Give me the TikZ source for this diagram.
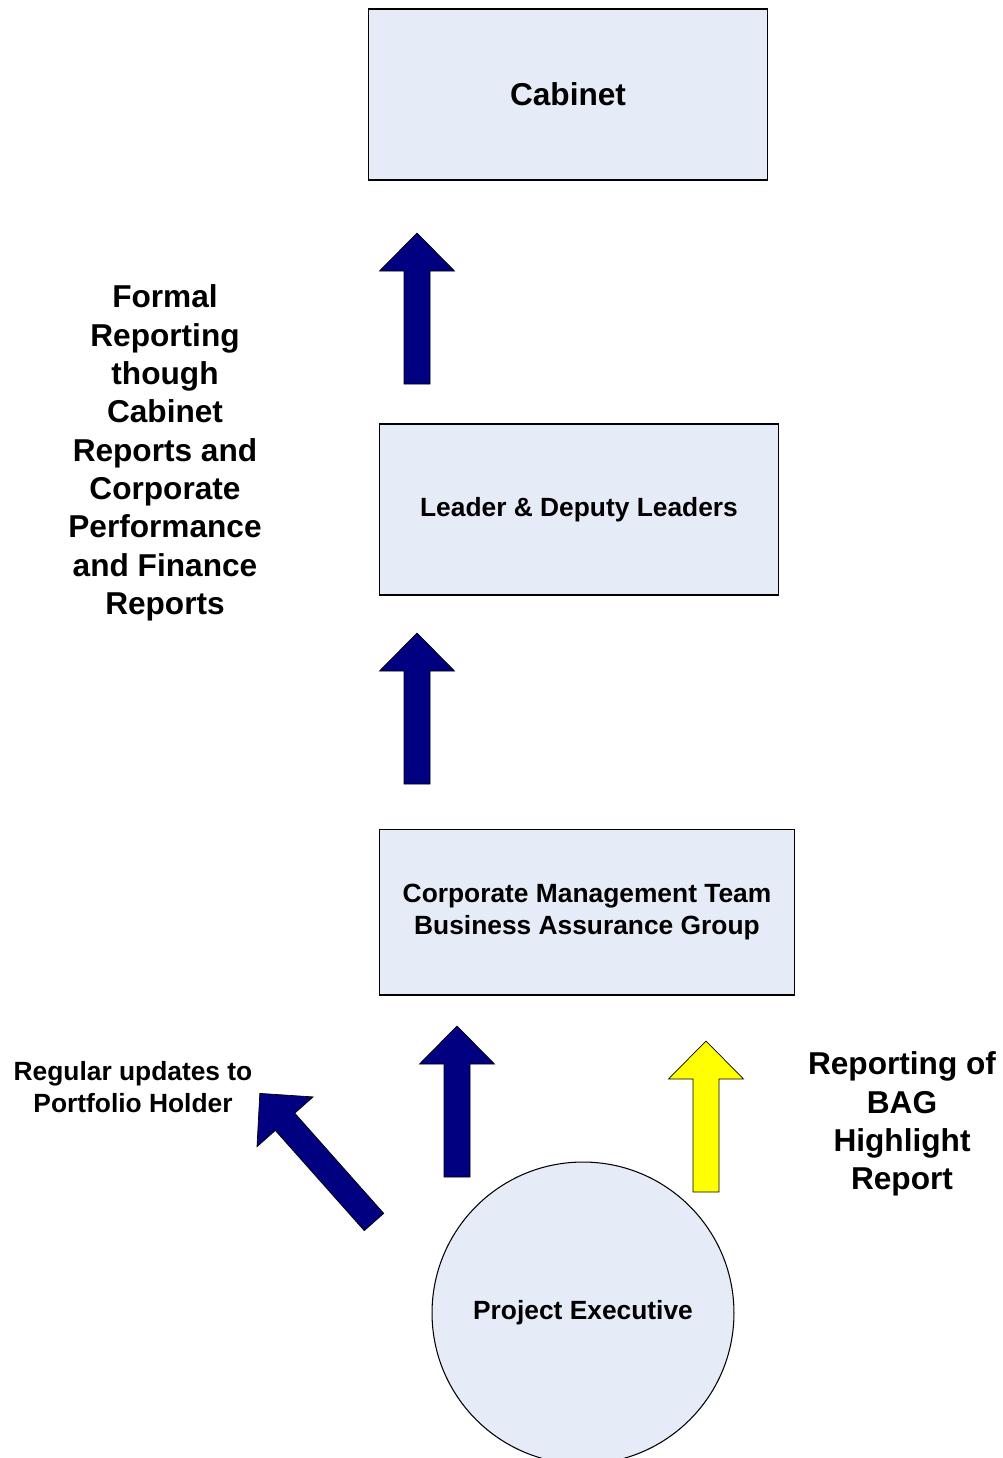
\documentclass[tikz,border=0pt]{standalone}
\usepackage{fontspec}
\setmainfont{Liberation Sans}
\usetikzlibrary{positioning,calc}

\definecolor{boxfill}{HTML}{E6ECF7}
\definecolor{navyarrow}{HTML}{000080}
\definecolor{yellowarrow}{HTML}{FFFF00}

\tikzset{
  box/.style={draw=black, line width=0.6pt, fill=boxfill, minimum width=8cm, minimum height=3.42cm,
    font=\fontsize{15}{18}\selectfont\bfseries, align=center},
  label/.style={align=center, font=\fontsize{18}{21.8}\selectfont\bfseries},
  pics/blockarrow/.style={code={
    \path[pic actions] (-13,0) -- (-13,#1-38) -- (-37.5,#1-38) -- (0,#1)
      -- (37.5,#1-38) -- (13,#1-38) -- (13,0) -- cycle;}},
  pics/blockarrow/.default=151,
  bluearrow/.style={fill=navyarrow, draw=black, line width=0.4pt},
  yellowarr/.style={fill=yellowarrow, draw=black, line width=0.4pt}
}

\begin{document}
\begin{tikzpicture}[x=0.02cm, y=0.02cm]
  \useasboundingbox (0,0) rectangle (1003,-1458);
  \node[box, font=\fontsize{18}{21.8}\selectfont\bfseries](cabinet) at (568,-94.5){Cabinet};
  \node[box](leaders) at (579,-509.5){Leader \& Deputy Leaders};
  \node[box, minimum width=8.32cm, minimum height=3.32cm](cmt) at (587,-912)
    {Corporate Management Team\\ Business Assurance Group};
  \node[circle, draw=black, line width=0.6pt, fill=boxfill, minimum size=6.04cm,
    font=\fontsize{15}{18}\selectfont\bfseries](exec) at (583,-1313){Project Executive};
  \pic[bluearrow] at (417,-384){blockarrow};
  \pic[bluearrow] at (417,-784){blockarrow};
  \pic[bluearrow] at (457,-1177){blockarrow};
  \pic[yellowarr] at (706,-1192){blockarrow};
  \pic[bluearrow, rotate=41.6] at (374,-1222){blockarrow=172};
  \node[label](formal) at (165,-453){Formal\\ Reporting\\ though\\ Cabinet\\ Reports and\\
    Corporate\\ Performance\\ and Finance\\ Reports};
  \node[align=center, font=\fontsize{15}{18.2}\selectfont\bfseries](updates) at (133,-1087)
    {Regular updates to\\ Portfolio Holder};
  \node[label](bag) at (902,-1124){Reporting of\\ BAG\\ Highlight\\ Report};
\end{tikzpicture}
\end{document}
